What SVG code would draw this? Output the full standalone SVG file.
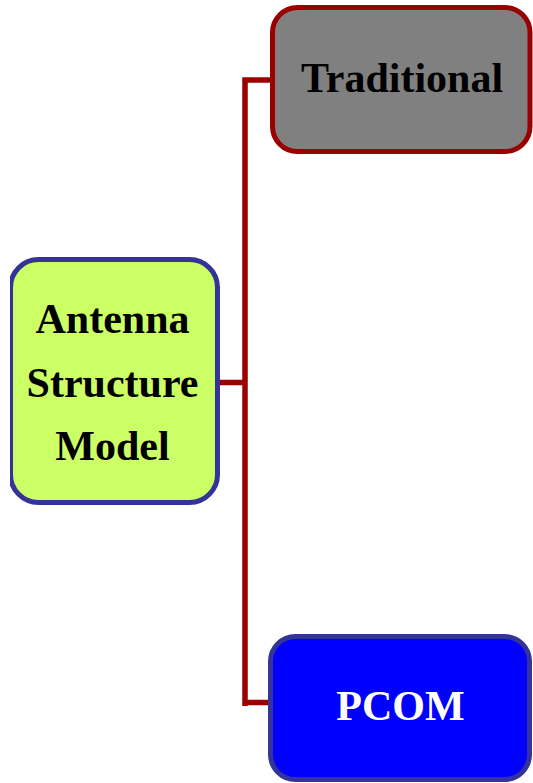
<svg xmlns="http://www.w3.org/2000/svg" width="533" height="783" viewBox="0 0 533 783">
  <style>
    .lbl { font-family: "Liberation Serif", "Times New Roman", serif; font-weight: bold; font-size: 42px; text-anchor: middle; }
    .wire { fill: none; stroke: #990000; stroke-width: 5.5; }
  </style>
  <defs>
    <clipPath id="leftClip">
      <rect x="10" y="0" width="523" height="783"/>
    </clipPath>
  </defs>
  <rect width="533" height="783" fill="#ffffff"/>

  <g id="connectors">
    <polyline class="wire" points="220,382.5 245,382.5"/>
    <polyline class="wire" points="273,80 245,80 245,706"/>
    <polyline class="wire" points="245,702.5 271,702.5"/>
  </g>

  <g id="antenna-structure-model" clip-path="url(#leftClip)">
    <rect x="10.5" y="259.5" width="207" height="243" rx="28" ry="28" fill="#ccff66" stroke="#333399" stroke-width="5"/>
    <text class="lbl" x="112.5" y="333" fill="#000000">Antenna</text>
    <text class="lbl" x="112.5" y="397" fill="#000000">Structure</text>
    <text class="lbl" x="112.5" y="460" fill="#000000">Model</text>
  </g>

  <g id="traditional">
    <rect x="272.5" y="7.5" width="257.5" height="144" rx="25" ry="25" fill="#808080" stroke="#990000" stroke-width="5"/>
    <text class="lbl" x="402" y="92" fill="#000000">Traditional</text>
  </g>

  <g id="pcom">
    <rect x="270.5" y="636.5" width="259" height="143" rx="25" ry="25" fill="#0000ff" stroke="#333399" stroke-width="5"/>
    <text class="lbl" x="400.5" y="720" fill="#ffffff">PCOM</text>
  </g>
</svg>
